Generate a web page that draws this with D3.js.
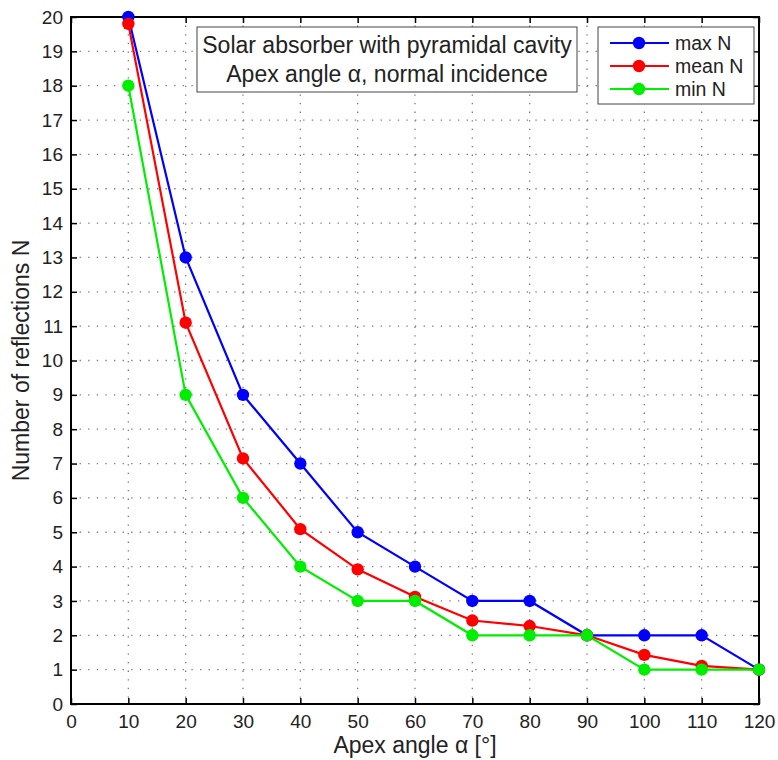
<!DOCTYPE html>
<html><head><meta charset="utf-8">
<script src="https://cdn.jsdelivr.net/npm/d3@7"></script>
<style>body{margin:0;background:#fff}svg text{font-family:"Liberation Sans",Arial,Helvetica,sans-serif;fill:#222}</style>
</head><body><svg id="c" width="778" height="760"></svg>
<script>
const angles = [10,20,30,40,50,60,70,80,90,100,110,120];
const maxN  = [20,13,9,7,5,4,3,3,2,2,2,1];
const meanN = [19.8,11.1,7.15,5.09,3.92,3.12,2.43,2.27,2,1.43,1.11,1];
const minN  = [18,9,6,4,3,3,2,2,2,1,1,1];
const xTicks = d3.range(0,121,10);
const yTicks = d3.range(0,21,1);
const seriesNames = ["max N","mean N","min N"];
const seriesColors = ["#0000ff","#ff0000","#00ee00"];
const titleLines = ["Solar absorber with pyramidal cavity","Apex angle \u03b1, normal incidence"];

const svg = d3.select("#c");
const L=71,R=759,T=17,B=704;
const x = d3.scaleLinear().domain([0,120]).range([L,R]);
const y = d3.scaleLinear().domain([0,20]).range([B,T]);

// grid
const g = svg.append("g");
g.selectAll(".vg").data(xTicks.slice(1,-1)).enter().append("line")
 .attr("x1",d=>x(d)).attr("x2",d=>x(d)).attr("y1",T).attr("y2",B)
 .attr("stroke","#777").attr("stroke-width",1.3).attr("stroke-dasharray","1.3,7.3");
g.selectAll(".hg").data(yTicks.slice(1,-1)).enter().append("line")
 .attr("x1",L).attr("x2",R).attr("y1",d=>y(d)).attr("y2",d=>y(d))
 .attr("stroke","#777").attr("stroke-width",1.3).attr("stroke-dasharray","1.3,7.3");

// axes
const fs=19;
const ax = svg.append("g").attr("transform",`translate(0,${B})`).call(d3.axisBottom(x).tickValues(xTicks).tickSizeInner(-6).tickSizeOuter(0).tickPadding(11));
const ay = svg.append("g").attr("transform",`translate(${L},0)`).call(d3.axisLeft(y).tickValues(yTicks).tickSizeInner(-6).tickSizeOuter(0).tickPadding(8));
const axT = svg.append("g").attr("transform",`translate(0,${T})`).call(d3.axisTop(x).tickValues(xTicks).tickSizeInner(-6).tickSizeOuter(0).tickFormat(""));
const ayR = svg.append("g").attr("transform",`translate(${R},0)`).call(d3.axisRight(y).tickValues(yTicks).tickSizeInner(-6).tickSizeOuter(0).tickFormat(""));
[ax,ay,axT,ayR].forEach(a=>{a.select(".domain").remove();a.selectAll("line").attr("stroke","#000").attr("stroke-width",1.5);a.selectAll("text").attr("font-size",fs).attr("fill","#222").style("font-family","Liberation Sans, Arial, sans-serif");});
svg.append("rect").attr("x",L).attr("y",T).attr("width",R-L).attr("height",B-T).attr("fill","none").attr("stroke","#000").attr("stroke-width",2);

// lines
const data=[maxN,meanN,minN];
const line = d3.line().x((d,i)=>x(angles[i])).y(d=>y(d));
data.forEach((s,k)=>{
  svg.append("path").datum(s).attr("d",line).attr("fill","none").attr("stroke",seriesColors[k]).attr("stroke-width",2.2);
});
data.forEach((s,k)=>{
  svg.append("g").selectAll("circle").data(s).enter().append("circle")
   .attr("cx",(d,i)=>x(angles[i])).attr("cy",d=>y(d)).attr("r",6.2).attr("fill",seriesColors[k]);
});

// labels
svg.append("text").attr("x",(L+R)/2).attr("y",753).attr("text-anchor","middle").attr("font-size",23).text("Apex angle \u03b1 [\u00b0]");
svg.append("text").attr("transform",`translate(29,${(T+B)/2}) rotate(-90)`).attr("text-anchor","middle").attr("font-size",23).text("Number of reflections N");

// title box
svg.append("rect").attr("x",197).attr("y",27).attr("width",380).attr("height",65).attr("fill","#fff").attr("stroke","#444").attr("stroke-width",1);
titleLines.forEach((t,i)=>svg.append("text").attr("x",387).attr("y",53+i*29).attr("text-anchor","middle").attr("font-size",23).text(t));

// legend
svg.append("rect").attr("x",598).attr("y",27).attr("width",156).attr("height",77).attr("fill","#fff").attr("stroke","#444").attr("stroke-width",1);
seriesNames.forEach((n,k)=>{
  const yy=43+k*23;
  svg.append("line").attr("x1",610).attr("x2",669).attr("y1",yy).attr("y2",yy).attr("stroke",seriesColors[k]).attr("stroke-width",2.2);
  svg.append("circle").attr("cx",639).attr("cy",yy).attr("r",6.2).attr("fill",seriesColors[k]);
  svg.append("text").attr("x",675).attr("y",yy+6.5).attr("font-size",19.5).text(n);
});
</script></body></html>
